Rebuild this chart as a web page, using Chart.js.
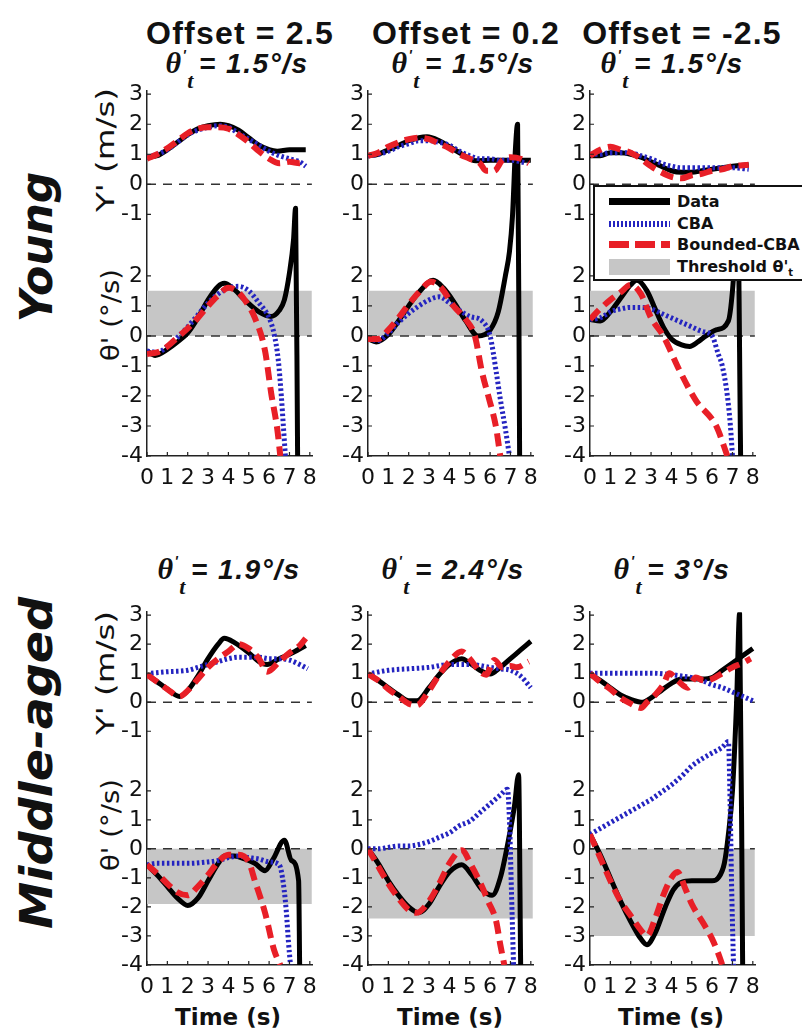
<!DOCTYPE html>
<html>
<head>
<meta charset="utf-8">
<script src="https://cdn.jsdelivr.net/npm/chart.js@4.4.0/dist/chart.umd.min.js"></script>
<style>
  body { margin: 0; width: 802px; height: 1036px; background: #fff; position: relative; overflow: hidden; }
  canvas { position: absolute; }
  .txt { position: absolute; white-space: nowrap; color: #111; transform: translate(-50%, -50%); }
  .ttl { font: bold 32px "Liberation Sans", Arial, sans-serif; letter-spacing: 1.2px; }
  .sub { font: italic bold 28px "Liberation Sans", Arial, sans-serif; letter-spacing: 1.5px; }
  .sub .th { font-family: "Liberation Serif", "DejaVu Serif", serif; font-size: 30px; }
  .sub sup { font-size: 14px; vertical-align: 0.9em; }
  .sub sub { font-family: "Liberation Serif", serif; font-size: 22px; vertical-align: -0.7em; margin-right: 4px; }
  .group { font: italic bold 44px "DejaVu Sans", sans-serif; }
  .ylab { font: 25px "DejaVu Sans", sans-serif; }
  .xlab { font: bold 23px "DejaVu Sans", sans-serif; }
  #legend { position: absolute; left: 593px; top: 185px; width: 207px; height: 92px; border: 2px solid #111; background: #fff; z-index: 5; font: bold 16px "DejaVu Sans", sans-serif; color: #111; }
  #legend .row { position: absolute; left: 0; height: 20px; }
  #legend .smp { position: absolute; left: 14px; width: 61px; }
  #legend .lbl { position: absolute; left: 82px; top: -10px; line-height: 20px; white-space: nowrap; }
  #legend sub { font-size: 10px; }
</style>
</head>
<body>

<div class="txt ttl" style="left:240px; top:33px">Offset = 2.5</div>
<div class="txt ttl" style="left:466px; top:33px">Offset = 0.2</div>
<div class="txt ttl" style="left:682px; top:33px">Offset = -2.5</div>

<div class="txt sub" style="left:237px; top:70px"><span class="th">θ</span><sup>'</sup><sub>t</sub>= 1.5°/s</div>
<div class="txt sub" style="left:463px; top:70px"><span class="th">θ</span><sup>'</sup><sub>t</sub>= 1.5°/s</div>
<div class="txt sub" style="left:672px; top:70px"><span class="th">θ</span><sup>'</sup><sub>t</sub>= 1.5°/s</div>

<div class="txt sub" style="left:229px; top:576px"><span class="th">θ</span><sup>'</sup><sub>t</sub>= 1.9°/s</div>
<div class="txt sub" style="left:453px; top:576px"><span class="th">θ</span><sup>'</sup><sub>t</sub>= 2.4°/s</div>
<div class="txt sub" style="left:672px; top:576px"><span class="th">θ</span><sup>'</sup><sub>t</sub>= 3°/s</div>

<div class="txt group" style="left:36px; top:247px; transform: translate(-50%,-50%) rotate(-90deg)">Young</div>
<div class="txt group" style="left:36px; top:763px; transform: translate(-50%,-50%) rotate(-90deg) scaleX(1.08)">Middle-aged</div>

<div class="txt ylab" style="left:105px; top:150px; transform: translate(-50%,-50%) rotate(-90deg) scaleX(1.3)">Y' (m/s)</div>
<div class="txt ylab" style="left:110px; top:315px; transform: translate(-50%,-50%) rotate(-90deg) scaleX(1.1)">θ' (°/s)</div>
<div class="txt ylab" style="left:105px; top:673px; transform: translate(-50%,-50%) rotate(-90deg) scaleX(1.3)">Y' (m/s)</div>
<div class="txt ylab" style="left:110px; top:825px; transform: translate(-50%,-50%) rotate(-90deg) scaleX(1.1)">θ' (°/s)</div>

<div class="txt xlab" style="left:228px; top:1017px">Time (s)</div>
<div class="txt xlab" style="left:450px; top:1017px">Time (s)</div>
<div class="txt xlab" style="left:671px; top:1017px">Time (s)</div>

<div id="legend">
  <div class="row" style="top:15px"><div class="smp" style="top:-4px; height:7px; background:#000"></div><div class="lbl">Data</div></div>
  <div class="row" style="top:37px"><div class="smp" style="top:-3px; height:6px; background:repeating-linear-gradient(90deg,#2424c0 0 2px,#fff 2px 4px)"></div><div class="lbl">CBA</div></div>
  <div class="row" style="top:58px"><div class="smp" style="top:-4px; height:7px; background:repeating-linear-gradient(90deg,#e81f27 0 20px,#fff 20px 26px)"></div><div class="lbl">Bounded-CBA</div></div>
  <div class="row" style="top:80px"><div class="smp" style="top:-8px; height:16px; background:#c6c6c6"></div><div class="lbl">Threshold θ'<sub>t</sub></div></div>
</div>

<script>
// shared ticks; the Y' panel is stacked above the θ' panel on the same axis
const OFFSET = 5.05;
const Y_MAX = 8.15;
const X_MAX = 8.15;
const xTicks = [0, 1, 2, 3, 4, 5, 6, 7, 8];
const rateTicks = [-4, -3, -2, -1, 0, 1, 2];
const velTicks = [-1, 0, 1, 2, 3];
const thresholds = [1.5, 1.5, 1.5, -1.9, -2.4, -3.0];

// Young, offset = 2.5
const young1VelData = [[0,0.9],[0.5,0.95],[1,1.15],[1.5,1.4],[2,1.65],[2.5,1.85],[3,1.95],[3.6,2.0],[4,1.95],[4.5,1.8],[5,1.55],[5.5,1.3],[6,1.15],[6.4,1.1],[7,1.15],[7.8,1.15]];
const young1VelCBA = [[0,0.9],[0.5,1.0],[1,1.15],[1.5,1.4],[2,1.65],[2.5,1.8],[3,1.9],[3.5,1.95],[4,1.9],[4.5,1.7],[5,1.5],[5.5,1.3],[6,1.1],[6.5,0.95],[7,0.85],[7.5,0.75],[7.8,0.6]];
const young1VelBounded = [[0,0.85],[0.5,1.0],[1,1.2],[1.5,1.45],[2,1.7],[2.5,1.85],[3,1.9],[3.5,1.9],[4,1.85],[4.5,1.65],[5,1.4],[5.5,1.1],[6,0.85],[6.5,0.7],[7,0.75],[7.5,0.7],[7.8,0.8]];
const young1RateData = [[0,-0.5],[0.4,-0.65],[1,-0.45],[1.5,-0.2],[2,0.1],[2.5,0.6],[3,1.2],[3.5,1.65],[3.8,1.75],[4.2,1.6],[4.8,1.2],[5.5,0.8],[6.1,0.65],[6.5,0.85],[6.75,1.2],[7.0,2.1],[7.2,3.2],[7.3,4.25],[7.4,-4]];
const young1RateCBA = [[0,-0.5],[0.5,-0.55],[1,-0.35],[1.5,-0.05],[2,0.3],[2.5,0.7],[3,1.1],[3.5,1.4],[4,1.6],[4.5,1.65],[5,1.5],[5.5,1.1],[6,0.6],[6.25,0.05],[6.45,-0.8],[6.6,-2.0],[6.7,-3.0],[6.8,-4]];
const young1RateBounded = [[0,-0.6],[0.5,-0.55],[1,-0.35],[1.5,-0.05],[2,0.25],[2.5,0.6],[3,1.0],[3.5,1.35],[4,1.6],[4.4,1.5],[4.8,1.2],[5.3,0.6],[5.8,-0.5],[6.1,-1.9],[6.4,-3.1],[6.55,-4]];

// Young, offset = 0.2
const young2VelData = [[0,0.95],[0.5,1.0],[1,1.15],[1.5,1.3],[2,1.45],[2.5,1.55],[2.9,1.58],[3.5,1.45],[4,1.25],[4.5,1.05],[5,0.85],[5.3,0.78],[6,0.8],[7,0.8],[8,0.8]];
const young2VelCBA = [[0,0.95],[0.5,1.0],[1,1.1],[1.5,1.25],[2,1.35],[2.5,1.45],[3,1.45],[3.5,1.4],[4,1.3],[4.5,1.1],[5,0.95],[5.5,0.85],[6,0.85],[6.5,0.8],[7,0.8],[7.5,0.75],[7.8,0.7]];
const young2VelBounded = [[0,0.95],[0.5,1.05],[1,1.25],[1.5,1.4],[2,1.5],[2.5,1.55],[3,1.5],[3.5,1.35],[4,1.2],[4.5,1.0],[5,0.85],[5.5,0.7],[5.8,0.45],[6.2,0.45],[6.6,0.8],[7,0.9],[7.5,0.85],[7.9,0.7]];
const young2RateData = [[0,-0.1],[0.4,-0.2],[1,0.05],[1.5,0.5],[2,1.0],[2.5,1.45],[3.2,1.85],[3.7,1.6],[4.2,1.15],[4.8,0.5],[5.4,0.0],[6.0,0.2],[6.4,0.8],[6.75,2.0],[6.95,2.8],[7.1,4.0],[7.25,6.3],[7.35,7.05],[7.45,-4]];
const young2RateCBA = [[0,-0.1],[0.5,-0.15],[1,0.1],[1.5,0.45],[2,0.75],[2.5,1.0],[3,1.2],[3.5,1.3],[4,1.1],[4.5,0.85],[5,0.65],[5.6,0.5],[6.0,0.0],[6.3,-1.2],[6.5,-2.1],[6.75,-3.1],[6.95,-4]];
const young2RateBounded = [[0,-0.1],[0.5,-0.1],[1,0.2],[1.5,0.6],[2,1.05],[2.5,1.45],[3.1,1.8],[3.6,1.6],[4.2,1.0],[4.8,0.55],[5.25,0.0],[5.6,-1.2],[5.95,-2.1],[6.28,-3.0],[6.5,-4]];

// Young, offset = -2.5
const young3VelData = [[0,0.95],[0.5,0.95],[1,1.05],[1.5,1.05],[2,1.0],[2.5,0.9],[3,0.75],[3.5,0.6],[4,0.45],[4.5,0.4],[5,0.4],[5.5,0.45],[6,0.5],[6.5,0.55],[7,0.6],[7.8,0.65]];
const young3VelCBA = [[0,1.0],[0.5,1.0],[1,1.05],[1.5,1.05],[2,1.05],[2.5,0.95],[3,0.85],[3.5,0.7],[4,0.6],[4.5,0.55],[5,0.55],[5.5,0.55],[6,0.55],[6.5,0.55],[7,0.55],[7.8,0.5]];
const young3VelBounded = [[0,0.95],[0.5,1.15],[1,1.25],[1.5,1.15],[2,1.05],[2.5,0.85],[3,0.6],[3.5,0.4],[4,0.25],[4.5,0.2],[5,0.3],[5.5,0.35],[6,0.45],[6.5,0.5],[7,0.6],[7.8,0.65]];
const young3RateData = [[0,0.55],[0.5,0.5],[1,0.8],[1.5,1.25],[2,1.7],[2.3,1.85],[2.8,1.5],[3.2,0.9],[3.6,0.3],[4,-0.1],[4.5,-0.3],[4.9,-0.35],[5.3,-0.2],[5.7,0.0],[6.2,0.2],[6.8,0.5],[7.0,1.5],[7.1,2.5],[7.25,4.5],[7.4,-4]];
const young3RateCBA = [[0,0.55],[0.5,0.6],[1,0.8],[1.5,0.9],[2,0.95],[2.5,0.95],[3,0.9],[3.5,0.75],[4,0.6],[4.5,0.45],[5,0.3],[5.5,0.15],[6,0.0],[6.3,-0.6],[6.5,-1.0],[6.75,-2.0],[6.9,-3.0],[7.0,-4]];
const young3RateBounded = [[0,0.55],[0.5,0.9],[1,1.2],[1.5,1.45],[2.0,1.7],[2.5,1.4],[3.0,0.6],[3.6,0.0],[4.4,-1.15],[5.2,-2.15],[6.2,-3.0],[6.75,-4]];

// Middle-aged, threshold 1.9
const middle1VelData = [[0,0.95],[0.5,0.7],[1,0.45],[1.6,0.2],[2,0.4],[2.5,0.9],[3,1.5],[3.5,2.0],[3.8,2.2],[4.3,2.05],[5,1.7],[5.5,1.4],[5.9,1.3],[6.5,1.5],[7,1.65],[7.8,1.95]];
const middle1VelCBA = [[0.2,1.0],[1,1.05],[2,1.1],[2.5,1.2],[3,1.3],[3.5,1.4],[4,1.5],[4.5,1.55],[5,1.55],[5.5,1.55],[6,1.5],[6.5,1.5],[7,1.45],[7.5,1.3],[7.9,1.15]];
const middle1VelBounded = [[0,0.95],[0.5,0.7],[1,0.45],[1.6,0.2],[2,0.4],[2.5,0.8],[3,1.2],[3.5,1.5],[4,1.75],[4.5,2.0],[5,1.85],[5.5,1.5],[5.9,1.05],[6.5,1.4],[7,1.7],[7.5,1.95],[7.8,2.2]];
const middle1RateData = [[0,-0.55],[0.5,-0.9],[1,-1.3],[1.5,-1.7],[2,-1.95],[2.5,-1.7],[3,-1.1],[3.5,-0.5],[3.8,-0.25],[4.3,-0.25],[4.8,-0.35],[5.3,-0.5],[5.8,-0.75],[6.2,-0.35],[6.75,0.3],[7.1,-0.4],[7.45,-1.1],[7.5,-4]];
const middle1RateCBA = [[0,-0.55],[0.5,-0.5],[1,-0.5],[2,-0.5],[3,-0.45],[3.5,-0.4],[4,-0.3],[4.5,-0.25],[5,-0.3],[5.5,-0.35],[6,-0.45],[6.5,-0.55],[6.7,-1.2],[6.85,-2.2],[6.95,-3.2],[7.05,-4]];
const middle1RateBounded = [[0,-0.55],[0.5,-0.85],[1,-1.2],[1.5,-1.5],[2,-1.6],[2.5,-1.3],[3,-0.9],[3.5,-0.45],[4,-0.2],[4.5,-0.2],[5,-0.45],[5.3,-1.1],[5.8,-2.2],[6.25,-3.5],[6.55,-4]];

// Middle-aged, threshold 2.4
const middle2VelData = [[0,0.97],[0.5,0.75],[1,0.5],[1.5,0.25],[2,0.05],[2.4,0.05],[3,0.5],[3.5,0.95],[4,1.3],[4.6,1.5],[5,1.35],[5.5,1.1],[6,0.97],[6.5,1.2],[7,1.5],[7.5,1.8],[8,2.1]];
const middle2VelCBA = [[0.2,1.0],[1,1.1],[2,1.15],[3,1.2],[4,1.3],[5,1.3],[6,1.2],[6.5,1.15],[7,1.1],[7.5,0.9],[8,0.5]];
const middle2VelBounded = [[0,0.97],[0.5,0.75],[1,0.45],[1.5,0.2],[2,-0.05],[2.4,-0.1],[3,0.4],[3.5,0.95],[4,1.4],[4.6,1.75],[5,1.5],[5.5,1.05],[5.8,0.95],[6.2,1.45],[6.6,1.2],[7,1.25],[7.3,1.2],[7.9,1.4]];
const middle2RateData = [[0,0],[0.5,-0.5],[1,-1.1],[1.5,-1.6],[2,-2.0],[2.5,-2.2],[3,-1.9],[3.5,-1.3],[4,-0.8],[4.6,-0.55],[5.1,-0.9],[5.6,-1.4],[6.1,-1.6],[6.5,-1.0],[6.9,0.3],[7.2,1.5],[7.4,2.55],[7.5,-4]];
const middle2RateCBA = [[0,0],[0.5,0],[1,0.05],[1.5,0.1],[2,0.1],[2.5,0.15],[3,0.25],[3.5,0.4],[4,0.55],[4.5,0.8],[5,0.95],[5.5,1.25],[6,1.55],[6.5,1.85],[6.85,2.05],[6.95,1.0],[7.05,-1.5],[7.15,-4]];
const middle2RateBounded = [[0,0],[0.5,-0.6],[1,-1.2],[1.5,-1.7],[2,-2.1],[2.4,-2.2],[3,-1.8],[3.5,-1.2],[4,-0.5],[4.6,-0.05],[5.1,-0.6],[5.6,-1.3],[5.9,-1.8],[6.3,-2.5],[6.5,-3.3],[6.7,-4]];

// Middle-aged, threshold 3
const middle3VelData = [[0,0.95],[0.5,0.75],[1,0.5],[1.5,0.25],[2,0.1],[2.6,0.0],[3,0.15],[3.5,0.4],[4,0.65],[4.5,0.8],[5,0.8],[5.5,0.8],[6,0.85],[6.5,1.1],[7,1.35],[7.5,1.6],[8,1.85]];
const middle3VelCBA = [[0,1.0],[1,1.0],[2,1.0],[3,1.0],[4,0.95],[4.5,0.9],[5,0.85],[5.5,0.75],[6,0.6],[6.5,0.5],[7,0.35],[7.5,0.2],[8,0.05]];
const middle3VelBounded = [[0,1.0],[0.5,0.7],[1,0.45],[1.5,0.15],[2,-0.05],[2.5,-0.2],[2.8,0.0],[3.2,0.25],[3.6,0.6],[3.9,1.0],[4.3,0.75],[4.8,0.5],[5.2,0.85],[5.6,0.75],[6.0,0.8],[6.5,1.0],[7,1.2],[7.5,1.35],[7.9,1.5]];
const middle3RateData = [[0,0.5],[0.5,-0.2],[1,-1.0],[1.5,-1.8],[2,-2.5],[2.5,-3.1],[2.8,-3.3],[3.2,-2.9],[3.7,-2.0],[4.1,-1.4],[4.5,-1.15],[5,-1.1],[5.5,-1.1],[6.0,-1.1],[6.3,-1.0],[6.6,-0.5],[6.8,0.5],[7.0,2.0],[7.2,5.0],[7.35,8.1],[7.5,-4]];
const middle3RateCBA = [[0,0.5],[0.5,0.7],[1,0.9],[1.5,1.1],[2,1.3],[2.5,1.5],[3,1.7],[3.5,1.95],[4,2.2],[4.5,2.5],[5,2.85],[5.5,3.1],[6,3.3],[6.5,3.5],[6.8,3.7],[6.9,1.0],[6.95,-1.0],[7.05,-4]];
const middle3RateBounded = [[0,0.5],[0.5,-0.3],[1,-1.1],[1.5,-1.8],[2,-2.3],[2.5,-2.8],[2.8,-3.0],[3.2,-2.4],[3.6,-1.6],[4.0,-1.0],[4.3,-0.8],[4.7,-1.4],[5.0,-1.9],[5.6,-2.6],[6.0,-3.1],[6.3,-3.6],[6.5,-4]];

const panels = [
  { vel: [young1VelData, young1VelCBA, young1VelBounded], rate: [young1RateData, young1RateCBA, young1RateBounded] },
  { vel: [young2VelData, young2VelCBA, young2VelBounded], rate: [young2RateData, young2RateCBA, young2RateBounded] },
  { vel: [young3VelData, young3VelCBA, young3VelBounded], rate: [young3RateData, young3RateCBA, young3RateBounded] },
  { vel: [middle1VelData, middle1VelCBA, middle1VelBounded], rate: [middle1RateData, middle1RateCBA, middle1RateBounded] },
  { vel: [middle2VelData, middle2VelCBA, middle2VelBounded], rate: [middle2RateData, middle2RateCBA, middle2RateBounded] },
  { vel: [middle3VelData, middle3VelCBA, middle3VelBounded], rate: [middle3RateData, middle3RateCBA, middle3RateBounded] }
];

// page layout of the plot areas
const columnX = [147, 368, 590];
const rowBox = [{ top: 88, height: 368 }, { top: 609, height: 356 }];
const AXIS_W = 50, PAD_TOP = 14, X_AXIS_H = 40, PAD_RIGHT = 10, AREA_W = 169;

const lineStyles = [
  { label: 'Data', borderColor: '#000', borderWidth: 5, order: 3 },
  { label: 'CBA', borderColor: '#2424c0', borderWidth: 5, borderDash: [2.5, 2.5], order: 2 },
  { label: 'Bounded-CBA', borderColor: '#e81f27', borderWidth: 6, borderDash: [13, 7], order: 1 }
];

function toPoints(arr, shift) {
  return arr.map(([t, v]) => ({ x: t, y: v + shift }));
}

// MATLAB-style inward tick marks
const innerTicks = {
  id: 'innerTicks',
  afterDraw(chart) {
    const { ctx, chartArea: a, scales: { x, y } } = chart;
    ctx.save();
    ctx.strokeStyle = '#222';
    ctx.lineWidth = 1.2;
    ctx.beginPath();
    x.ticks.forEach(t => {
      const px = x.getPixelForValue(t.value);
      ctx.moveTo(px, a.bottom); ctx.lineTo(px, a.bottom - 4);
    });
    y.ticks.forEach(t => {
      const py = y.getPixelForValue(t.value);
      ctx.moveTo(a.left, py); ctx.lineTo(a.left + 4, py);
    });
    ctx.stroke();
    ctx.restore();
  }
};

panels.forEach((p, i) => {
  const row = Math.floor(i / 3), col = i % 3;
  const box = rowBox[row];
  const canvas = document.createElement('canvas');
  canvas.width = AXIS_W + AREA_W + PAD_RIGHT;
  canvas.height = PAD_TOP + box.height + X_AXIS_H;
  canvas.style.left = (columnX[col] - AXIS_W) + 'px';
  canvas.style.top = (box.top - PAD_TOP) + 'px';
  document.body.appendChild(canvas);

  const datasets = [
    { label: 'Threshold', data: [{ x: 0, y: thresholds[i] }, { x: 8.1, y: thresholds[i] }],
      fill: { value: 0 }, backgroundColor: '#c6c6c6', borderWidth: 0, order: 10 },
    { label: 'zero', data: [{ x: 0, y: 0 }, { x: 8.1, y: 0 }], borderColor: '#333', borderWidth: 1.5, borderDash: [9, 7], order: 9 },
    { label: 'zero', data: [{ x: 0, y: OFFSET }, { x: 8.1, y: OFFSET }], borderColor: '#333', borderWidth: 1.5, borderDash: [9, 7], order: 9 }
  ];
  lineStyles.forEach((s, k) => {
    datasets.push(Object.assign({}, s, { data: toPoints(p.rate[k], 0) }));
    datasets.push(Object.assign({}, s, { data: toPoints(p.vel[k], OFFSET) }));
  });

  new Chart(canvas, {
    type: 'line',
    data: { datasets },
    options: {
      responsive: false,
      animation: false,
      devicePixelRatio: 1,
      layout: { padding: { top: PAD_TOP, right: PAD_RIGHT, left: 0, bottom: 0 } },
      plugins: { legend: { display: false }, tooltip: { enabled: false } },
      elements: {
        point: { radius: 0 },
        line: { cubicInterpolationMode: 'monotone', borderCapStyle: 'butt', borderJoinStyle: 'round' }
      },
      scales: {
        x: {
          type: 'linear', min: 0, max: X_MAX,
          afterBuildTicks: s => { s.ticks = xTicks.map(v => ({ value: v })); },
          afterFit: s => { s.height = X_AXIS_H; },
          grid: { display: false, drawTicks: false },
          border: { color: '#222', width: 1.5 },
          ticks: { padding: 9, color: '#111', maxRotation: 0, autoSkip: false, font: { family: 'DejaVu Sans', size: 22 } }
        },
        y: {
          type: 'linear', min: -4, max: Y_MAX,
          afterBuildTicks: s => {
            s.ticks = rateTicks.map(v => ({ value: v })).concat(velTicks.map(v => ({ value: v + OFFSET })));
          },
          afterFit: s => { s.width = AXIS_W; },
          grid: { display: false, drawTicks: false },
          border: { color: '#222', width: 1.5 },
          ticks: {
            padding: 4, color: '#111', autoSkip: false, font: { family: 'DejaVu Sans', size: 22 },
            callback: v => v > 3 ? String(Math.round(v - OFFSET)) : String(v)
          }
        }
      }
    },
    plugins: [innerTicks]
  });
});
</script>
</body>
</html>
